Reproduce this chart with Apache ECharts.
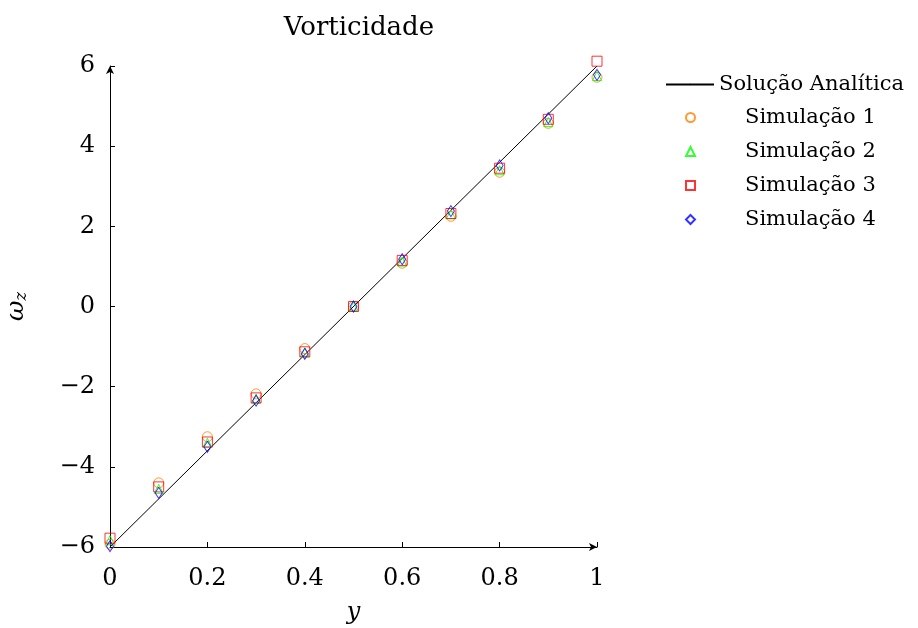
<!DOCTYPE html>
<html>
<head>
<meta charset="utf-8">
<script src="https://cdn.jsdelivr.net/npm/echarts@6/dist/echarts.min.js"></script>
<style>
  html, body { margin: 0; padding: 0; background: #fff; }
  #main { width: 918px; height: 628px; }
</style>
</head>
<body>
<div id="main"></div>
<script>
// posições y (eixo horizontal)
const yPos = [0, 0.1, 0.2, 0.3, 0.4, 0.5, 0.6, 0.7, 0.8, 0.9, 1.0];
// solução analítica (reta)
const analyticX = [0, 1];
const analyticW = [-6, 6];
// simulações
const sim1 = [-5.93, -4.40, -3.25, -2.18, -1.05, 0.00, 1.08, 2.25, 3.35, 4.57, 5.72];
const sim2 = [-5.83, -4.55, -3.40, -2.30, -1.15, 0.00, 1.12, 2.30, 3.40, 4.60, 5.75];
const sim3 = [-5.78, -4.50, -3.38, -2.28, -1.13, 0.00, 1.15, 2.32, 3.45, 4.67, 6.12];
const sim4 = [-5.98, -4.65, -3.50, -2.35, -1.18, 0.00, 1.18, 2.38, 3.52, 4.70, 5.78];
const xTicks = [0, 0.2, 0.4, 0.6, 0.8, 1];
const yTicks = [-6, -4, -2, 0, 2, 4, 6];

const font = '"DejaVu Serif", "Liberation Serif", serif';

function pairs(xs, ys) {
  return xs.map((x, i) => [x, ys[i]]);
}

function simSeries(name, values, symbol, size, color) {
  return {
    name: name,
    type: 'scatter',
    data: pairs(yPos, values),
    symbol: symbol,
    symbolSize: size,
    clip: false,
    itemStyle: { color: 'rgba(0,0,0,0)', borderColor: color, borderWidth: 1 },
    z: 3
  };
}

const chart = echarts.init(document.getElementById('main'));
chart.setOption({
  animation: false,
  backgroundColor: '#fff',
  textStyle: { fontFamily: font },
  title: {
    text: 'Vorticidade',
    left: 354,
    textAlign: 'center',
    top: 10,
    textStyle: { fontFamily: font, fontWeight: 'normal', fontSize: 26, color: '#000' }
  },
  legend: [
    {
      data: ['Solução Analítica'],
      left: 660,
      top: 69,
      itemWidth: 48,
      itemHeight: 2,
      itemGap: 4,
      textStyle: { fontFamily: font, fontSize: 21, color: '#000' }
    },
    {
      data: ['Simulação 1', 'Simulação 2', 'Simulação 3', 'Simulação 4'],
      orient: 'vertical',
      left: 680,
      top: 102,
      itemWidth: 9,
      itemHeight: 9,
      itemGap: 13,
      formatter: function (n) { return '{s|' + n + '}'; },
      textStyle: {
        fontFamily: font, fontSize: 21, color: '#000',
        rich: { s: { fontFamily: font, fontSize: 21, color: '#000', padding: [0, 0, 0, 45] } }
      }
    }
  ],
  grid: { left: 110, right: 321, top: 66, bottom: 81, containLabel: false, outerBoundsMode: 'none' },
  xAxis: {
    type: 'value',
    min: 0,
    max: 1,
    interval: 0.2,
    name: 'y',
    nameLocation: 'middle',
    nameGap: 54,
    nameTextStyle: { fontFamily: font, fontStyle: 'italic', fontSize: 24, color: '#000' },
    axisLine: { show: true, onZero: false, lineStyle: { color: '#000', width: 1 }, symbol: ['none', 'arrow'], symbolSize: [6, 8] },
    axisTick: { show: true, inside: true, length: 5, lineStyle: { color: '#000' } },
    axisLabel: {
      fontFamily: font, fontSize: 24, color: '#000', margin: 20,
      formatter: function (v) { return xTicks.indexOf(v) >= 0 ? String(v) : ''; }
    },
    splitLine: { show: false }
  },
  yAxis: {
    type: 'value',
    min: -6,
    max: 6,
    interval: 2,
    name: '{w|ω}{z|z}',
    nameLocation: 'middle',
    nameGap: 80,
    nameRotate: 90,
    nameTextStyle: {
      color: '#000',
      rich: {
        w: { fontFamily: font, fontStyle: 'italic', fontSize: 25, color: '#000' },
        z: { fontFamily: font, fontStyle: 'italic', fontSize: 16, color: '#000', verticalAlign: 'bottom', padding: [12, 0, 0, 0] }
      }
    },
    axisLine: { show: true, onZero: false, lineStyle: { color: '#000', width: 1 }, symbol: ['none', 'arrow'], symbolSize: [6, 8] },
    axisTick: { show: true, inside: true, length: 5, lineStyle: { color: '#000' } },
    axisLabel: {
      fontFamily: font, fontSize: 24, color: '#000', margin: 15,
      formatter: function (v) {
        if (yTicks.indexOf(v) < 0) return '';
        return v < 0 ? '\u2212' + Math.abs(v) : String(v);
      }
    },
    splitLine: { show: false }
  },
  series: [
    {
      name: 'Solução Analítica',
      type: 'line',
      data: pairs(analyticX, analyticW),
      showSymbol: false,
      symbol: 'none',
      lineStyle: { color: '#000', width: 1 },
      itemStyle: { color: '#000' },
      z: 2
    },
    simSeries('Simulação 1', sim1, 'circle', 10, '#ff8000'),
    simSeries('Simulação 2', sim2, 'triangle', 9, '#00ff00'),
    simSeries('Simulação 3', sim3, 'rect', 10, '#ff0000'),
    simSeries('Simulação 4', sim4, 'diamond', [7, 11], '#0000ff')
  ]
});
</script>
</body>
</html>
